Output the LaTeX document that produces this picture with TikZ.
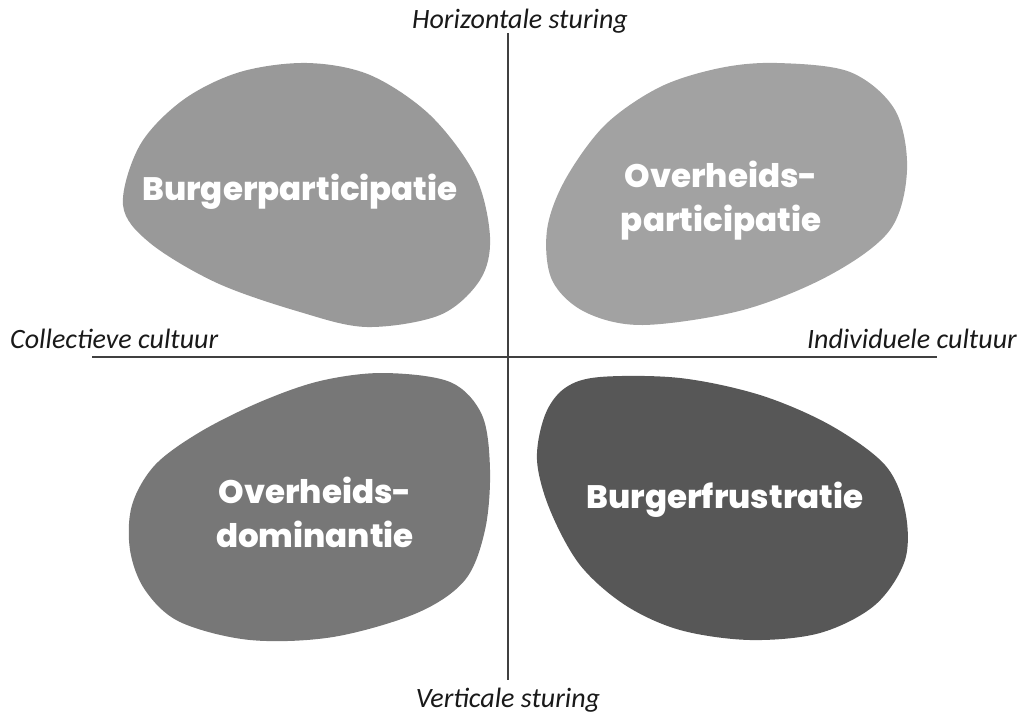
\documentclass[tikz,border=0pt]{standalone}
\usepackage{fontspec}
\setmainfont{Carlito}
\newfontfamily\blobfont{Poppins}[UprightFont={* ExtraBold}]
\begin{document}
\begin{tikzpicture}[x=1pt,y=-1pt,
  blobtext/.style={text=white,font=\blobfont\fontsize{32.5}{44}\selectfont,align=center,inner sep=0pt},
  axislabel/.style={font=\itshape\fontsize{28}{30}\selectfont,inner sep=0pt,text=black!90},
  axisline/.style={draw=black!75,line width=1.4pt},
  blobpath/.style={smooth cycle,tension=0.55}]
\useasboundingbox (0,0) rectangle (1019,712);
\definecolor{gA}{HTML}{999999}
\definecolor{gB}{HTML}{A2A2A2}
\definecolor{gC}{HTML}{777777}
\definecolor{gD}{HTML}{575757}
% blobs
\fill[gA] plot[blobpath] coordinates {(123,205) (150,243) (217,283) (300,312) (367,327) (440,315) (480,280) (490,237) (475,175) (430,115) (370,75) (307,63) (240,72) (183,100) (140,145)};
\fill[gB] plot[blobpath] coordinates {(777,63) (850,72) (895,110) (907,170) (890,230) (830,275) (743,310) (643,325) (585,312) (552,280) (547,230) (565,180) (605,125) (660,87) (720,68)};
\fill[gC] plot[blobpath] coordinates {(383,373) (450,382) (482,415) (490,470) (485,530) (465,580) (417,613) (333,637) (250,640) (180,622) (145,590) (130,550) (132,505) (155,465) (200,432) (260,402) (320,381)};
\fill[gD] plot[blobpath] coordinates {(600,377) (680,378) (760,395) (830,425) (885,465) (905,510) (905,560) (875,605) (820,633) (750,640) (680,630) (625,605) (580,565) (550,510) (537,460) (545,415) (565,388)};
% axes
\coordinate (top) at (508,33);
\coordinate (bot) at (508,680);
\coordinate (lft) at (92,357);
\coordinate (rgt) at (937,357);
\draw[axisline] (top) -- (bot);
\draw[axisline] (lft) -- (rgt);
% labels
\node[axislabel,anchor=base] (hs) at (520,28) {Horizontale sturing};
\node[axislabel,anchor=base] (vs) at (508,707) {Verticale sturing};
\node[axislabel,anchor=base west] (cc) at (10,348) {Collectieve cultuur};
\node[axislabel,anchor=base east] (ic) at (1017,348) {Individuele cultuur};
\node[blobtext] (bp) at (300,192) {Burgerparticipatie};
\node[blobtext] (op) at (721,201) {Overheids-\\participatie};
\node[blobtext] (od) at (315,512) {Overheids-\\dominantie};
\node[blobtext] (bf) at (725,500) {Burgerfrustratie};
\end{tikzpicture}
\end{document}
